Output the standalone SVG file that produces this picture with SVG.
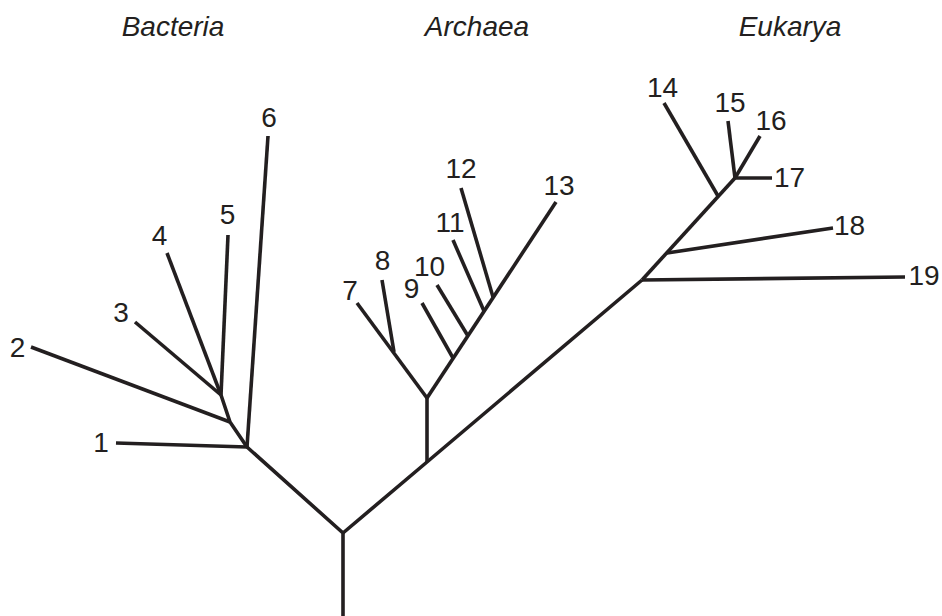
<svg xmlns="http://www.w3.org/2000/svg" width="942" height="616" viewBox="0 0 942 616">
<style>
.e{stroke:#231f20;stroke-width:3.6;fill:none;stroke-linecap:butt;stroke-linejoin:miter}
.t{font-family:"Liberation Sans",Arial,sans-serif;font-size:28px;fill:#231f20;text-anchor:middle}
.h{font-style:italic}
</style>
<rect width="942" height="616" fill="#fff"/>
<g id="titles">
<text class="t h" x="173" y="36">Bacteria</text>
<text class="t h" x="477" y="36">Archaea</text>
<text class="t h" x="790" y="36">Eukarya</text>
</g>
<g id="connectors">
<path class="e" d="M343,616 V533 L247,447"/>
<path class="e" d="M343,533 L427,462 L642,280"/>
<path class="e" d="M427,462 V398"/>
<path class="e" d="M116,443 L247,447"/>
<path class="e" d="M247,447 L268,136"/>
<path class="e" d="M247,447 L230,422 L221,395"/>
<path class="e" d="M31,347 L230,422"/>
<path class="e" d="M135,322 L221,395"/>
<path class="e" d="M167,253 L221,395"/>
<path class="e" d="M228,235 L221,395"/>
<path class="e" d="M427,398 L357,303"/>
<path class="e" d="M394,352 L382,280"/>
<path class="e" d="M427,398 L556,202"/>
<path class="e" d="M453,358 L422,303"/>
<path class="e" d="M468,336 L437,285"/>
<path class="e" d="M484,311 L453,240"/>
<path class="e" d="M493,297 L461,188"/>
<path class="e" d="M642,280 L905,277"/>
<path class="e" d="M667,253 L833,228"/>
<path class="e" d="M642,280 L735,178"/>
<path class="e" d="M718,196 L664,103"/>
<path class="e" d="M735,178 L728,121"/>
<path class="e" d="M735,178 L760,136"/>
<path class="e" d="M735,178 L772,178"/>
</g>
<g id="leaf1"><text class="t" x="101" y="452">1</text></g>
<g id="leaf2"><text class="t" x="17.5" y="357">2</text></g>
<g id="leaf3"><text class="t" x="121" y="322">3</text></g>
<g id="leaf4"><text class="t" x="159.5" y="245">4</text></g>
<g id="leaf5"><text class="t" x="227.5" y="224">5</text></g>
<g id="leaf6"><text class="t" x="269" y="127">6</text></g>
<g id="leaf7"><text class="t" x="350" y="300">7</text></g>
<g id="leaf8"><text class="t" x="382.5" y="270">8</text></g>
<g id="leaf9"><text class="t" x="411.5" y="298">9</text></g>
<g id="leaf10"><text class="t" x="429.5" y="276">10</text></g>
<g id="leaf11"><text class="t" x="450" y="232">11</text></g>
<g id="leaf12"><text class="t" x="461" y="178">12</text></g>
<g id="leaf13"><text class="t" x="559" y="195">13</text></g>
<g id="leaf14"><text class="t" x="662.5" y="97">14</text></g>
<g id="leaf15"><text class="t" x="730" y="112">15</text></g>
<g id="leaf16"><text class="t" x="771" y="130">16</text></g>
<g id="leaf17"><text class="t" x="789.5" y="187">17</text></g>
<g id="leaf18"><text class="t" x="849.5" y="235">18</text></g>
<g id="leaf19"><text class="t" x="924" y="285">19</text></g>
</svg>
